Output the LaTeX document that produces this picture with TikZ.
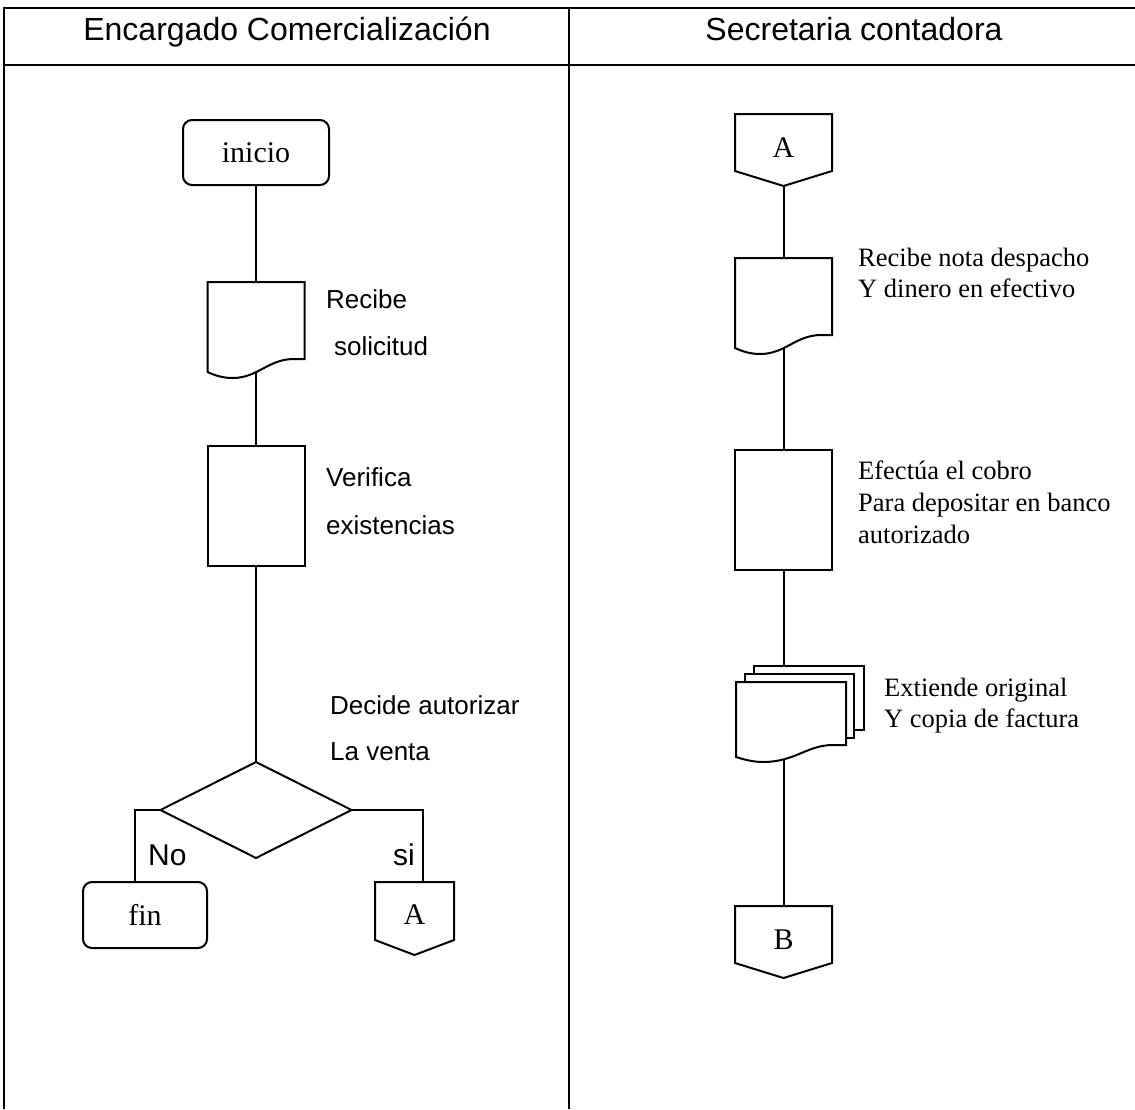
\documentclass[tikz,border=0pt]{standalone}
\usepackage{fontspec}
\setmainfont{Liberation Serif}
\setsansfont{Liberation Sans}
\usetikzlibrary{backgrounds}
\newcommand\docpath[1]{%
  \draw[ln, fill=white, shift={(#1.center)}]
    (-48.5,-48) -- (48.5,-48) -- (48.5,29) -- (38,29)
    .. controls (12,29) and (2,48) .. (-23.5,48)
    .. controls (-33,48) and (-41,45.5) .. (-48.5,42) -- cycle;}
\newcommand\offpath[1]{%
  \draw[ln, fill=white] (#1.north west) -- (#1.north east) -- ([yshift=15pt]#1.south east)
    -- (#1.south) -- ([yshift=15pt]#1.south west) -- cycle;}
\begin{document}
\begin{tikzpicture}[x=1pt,y=-1pt,
  tbl/.style={line width=2.5pt},
  ln/.style={line width=2pt},
  box/.style={inner sep=0pt, outer sep=0pt},
  termbox/.style={box, draw, fill=white, line width=2pt, rounded corners=9pt, font=\fontsize{30}{34}\selectfont},
  inner/.style={box, font=\fontsize{30}{34}\selectfont},
  lbl/.style={anchor=base west, inner sep=0pt, font=\sffamily\fontsize{26}{30}\selectfont},
  rlbl/.style={anchor=base west, inner sep=0pt, font=\fontsize{26.5}{30}\selectfont},
  head/.style={anchor=base, inner sep=0pt, font=\sffamily\fontsize{32}{36}\selectfont},
  yn/.style={anchor=base west, inner sep=0pt, font=\sffamily\fontsize{30}{34}\selectfont},
]
\useasboundingbox (0,0) rectangle (1135,1109);
% table
\draw[tbl] (1135,8) -- (4,8) -- (4,1109);
\draw[tbl] (4,65) -- (1135,65);
\draw[tbl] (569,8) -- (569,1109);
\node[head] (h1) at (287,40) {Encargado Comercialización};
\node[head] (h2) at (854,40) {Secretaria contadora};

% left lane
\node[termbox, minimum width=146pt, minimum height=65pt] (inicio) at (256,152.5) {inicio};
\node[box, minimum width=97pt, minimum height=96pt] (doc1) at (256,330) {};
\docpath{doc1}
\node[box, draw, fill=white, ln, minimum width=97pt, minimum height=120pt] (ver) at (256,506) {};
\node[box, minimum width=191pt, minimum height=96pt] (dec) at (256,810) {};
\draw[ln, fill=white] (dec.north) -- (dec.east) -- (dec.south) -- (dec.west) -- cycle;
\node[termbox, minimum width=124pt, minimum height=66pt] (fin) at (145,915) {fin};
\node[box, minimum width=79pt, minimum height=73pt] (A1) at (414.5,918.5) {};
\offpath{A1}
\node[inner] (A1t) at (414.5,915) {A};

% right lane
\node[box, minimum width=97pt, minimum height=72pt] (A2) at (783.5,150) {};
\offpath{A2}
\node[inner] (A2t) at (783.5,148) {A};
\node[box, minimum width=97pt, minimum height=96pt] (doc2) at (783.5,306) {};
\docpath{doc2}
\node[box, draw, fill=white, ln, minimum width=97pt, minimum height=120pt] (cob) at (783.5,510) {};
\node[box, minimum width=110pt, minimum height=80pt] (ext) at (791,722) {};
\draw[ln, fill=white, shift={(ext.center)}] (-37,-56) rectangle (73,8);
\draw[ln, fill=white, shift={(ext.center)}] (-46,-48) rectangle (63,16);
\draw[ln, fill=white, shift={(ext.center)}]
    (-55,-40) -- (55,-40) -- (55,23) -- (42,23)
    .. controls (16,23) and (4,40) .. (-28,40)
    .. controls (-38,40) and (-47,37.5) .. (-55,35) -- cycle;
\node[box, minimum width=97pt, minimum height=72pt] (B) at (783.5,942) {};
\offpath{B}
\node[inner] (Bt) at (783.5,940) {B};

% connectors
\begin{pgfonlayer}{background}
\draw[ln] (inicio.center) -- (doc1.center);
\draw[ln] (doc1.center) -- (ver.center);
\draw[ln] (ver.center) -- (dec.center);
\draw[ln] (dec.west) -| ([xshift=-10.5pt]fin.north);
\draw[ln] (dec.east) -| ([xshift=8.5pt]A1.north);
\draw[ln] (A2.center) -- (doc2.center);
\draw[ln] (doc2.center) -- (cob.center);
\draw[ln] (cob.center) -- (cob.center |- ext.center);
\draw[ln] (cob.center |- ext.center) -- (B.center);
\end{pgfonlayer}

% labels
\node[lbl] (t1) at (326,308) {Recibe};
\node[lbl] (t2) at (334,355) {solicitud};
\node[lbl] (t3) at (326,486) {Verifica};
\node[lbl] (t4) at (326,534) {existencias};
\node[lbl] (t5) at (330,714) {Decide autorizar};
\node[lbl] (t6) at (330,760) {La venta};
\node[yn] (no) at (148,865) {No};
\node[yn] (si) at (393,865) {si};
\node[rlbl] (r1) at (858,266) {Recibe nota despacho};
\node[rlbl] (r2) at (858,297) {Y dinero en efectivo};
\node[rlbl] (r3) at (858,479) {Efectúa el cobro};
\node[rlbl] (r4) at (858,511) {Para depositar en banco};
\node[rlbl] (r5) at (858,543) {autorizado};
\node[rlbl] (r6) at (884,696) {Extiende original};
\node[rlbl] (r7) at (884,727) {Y copia de factura};
\end{tikzpicture}
\end{document}
